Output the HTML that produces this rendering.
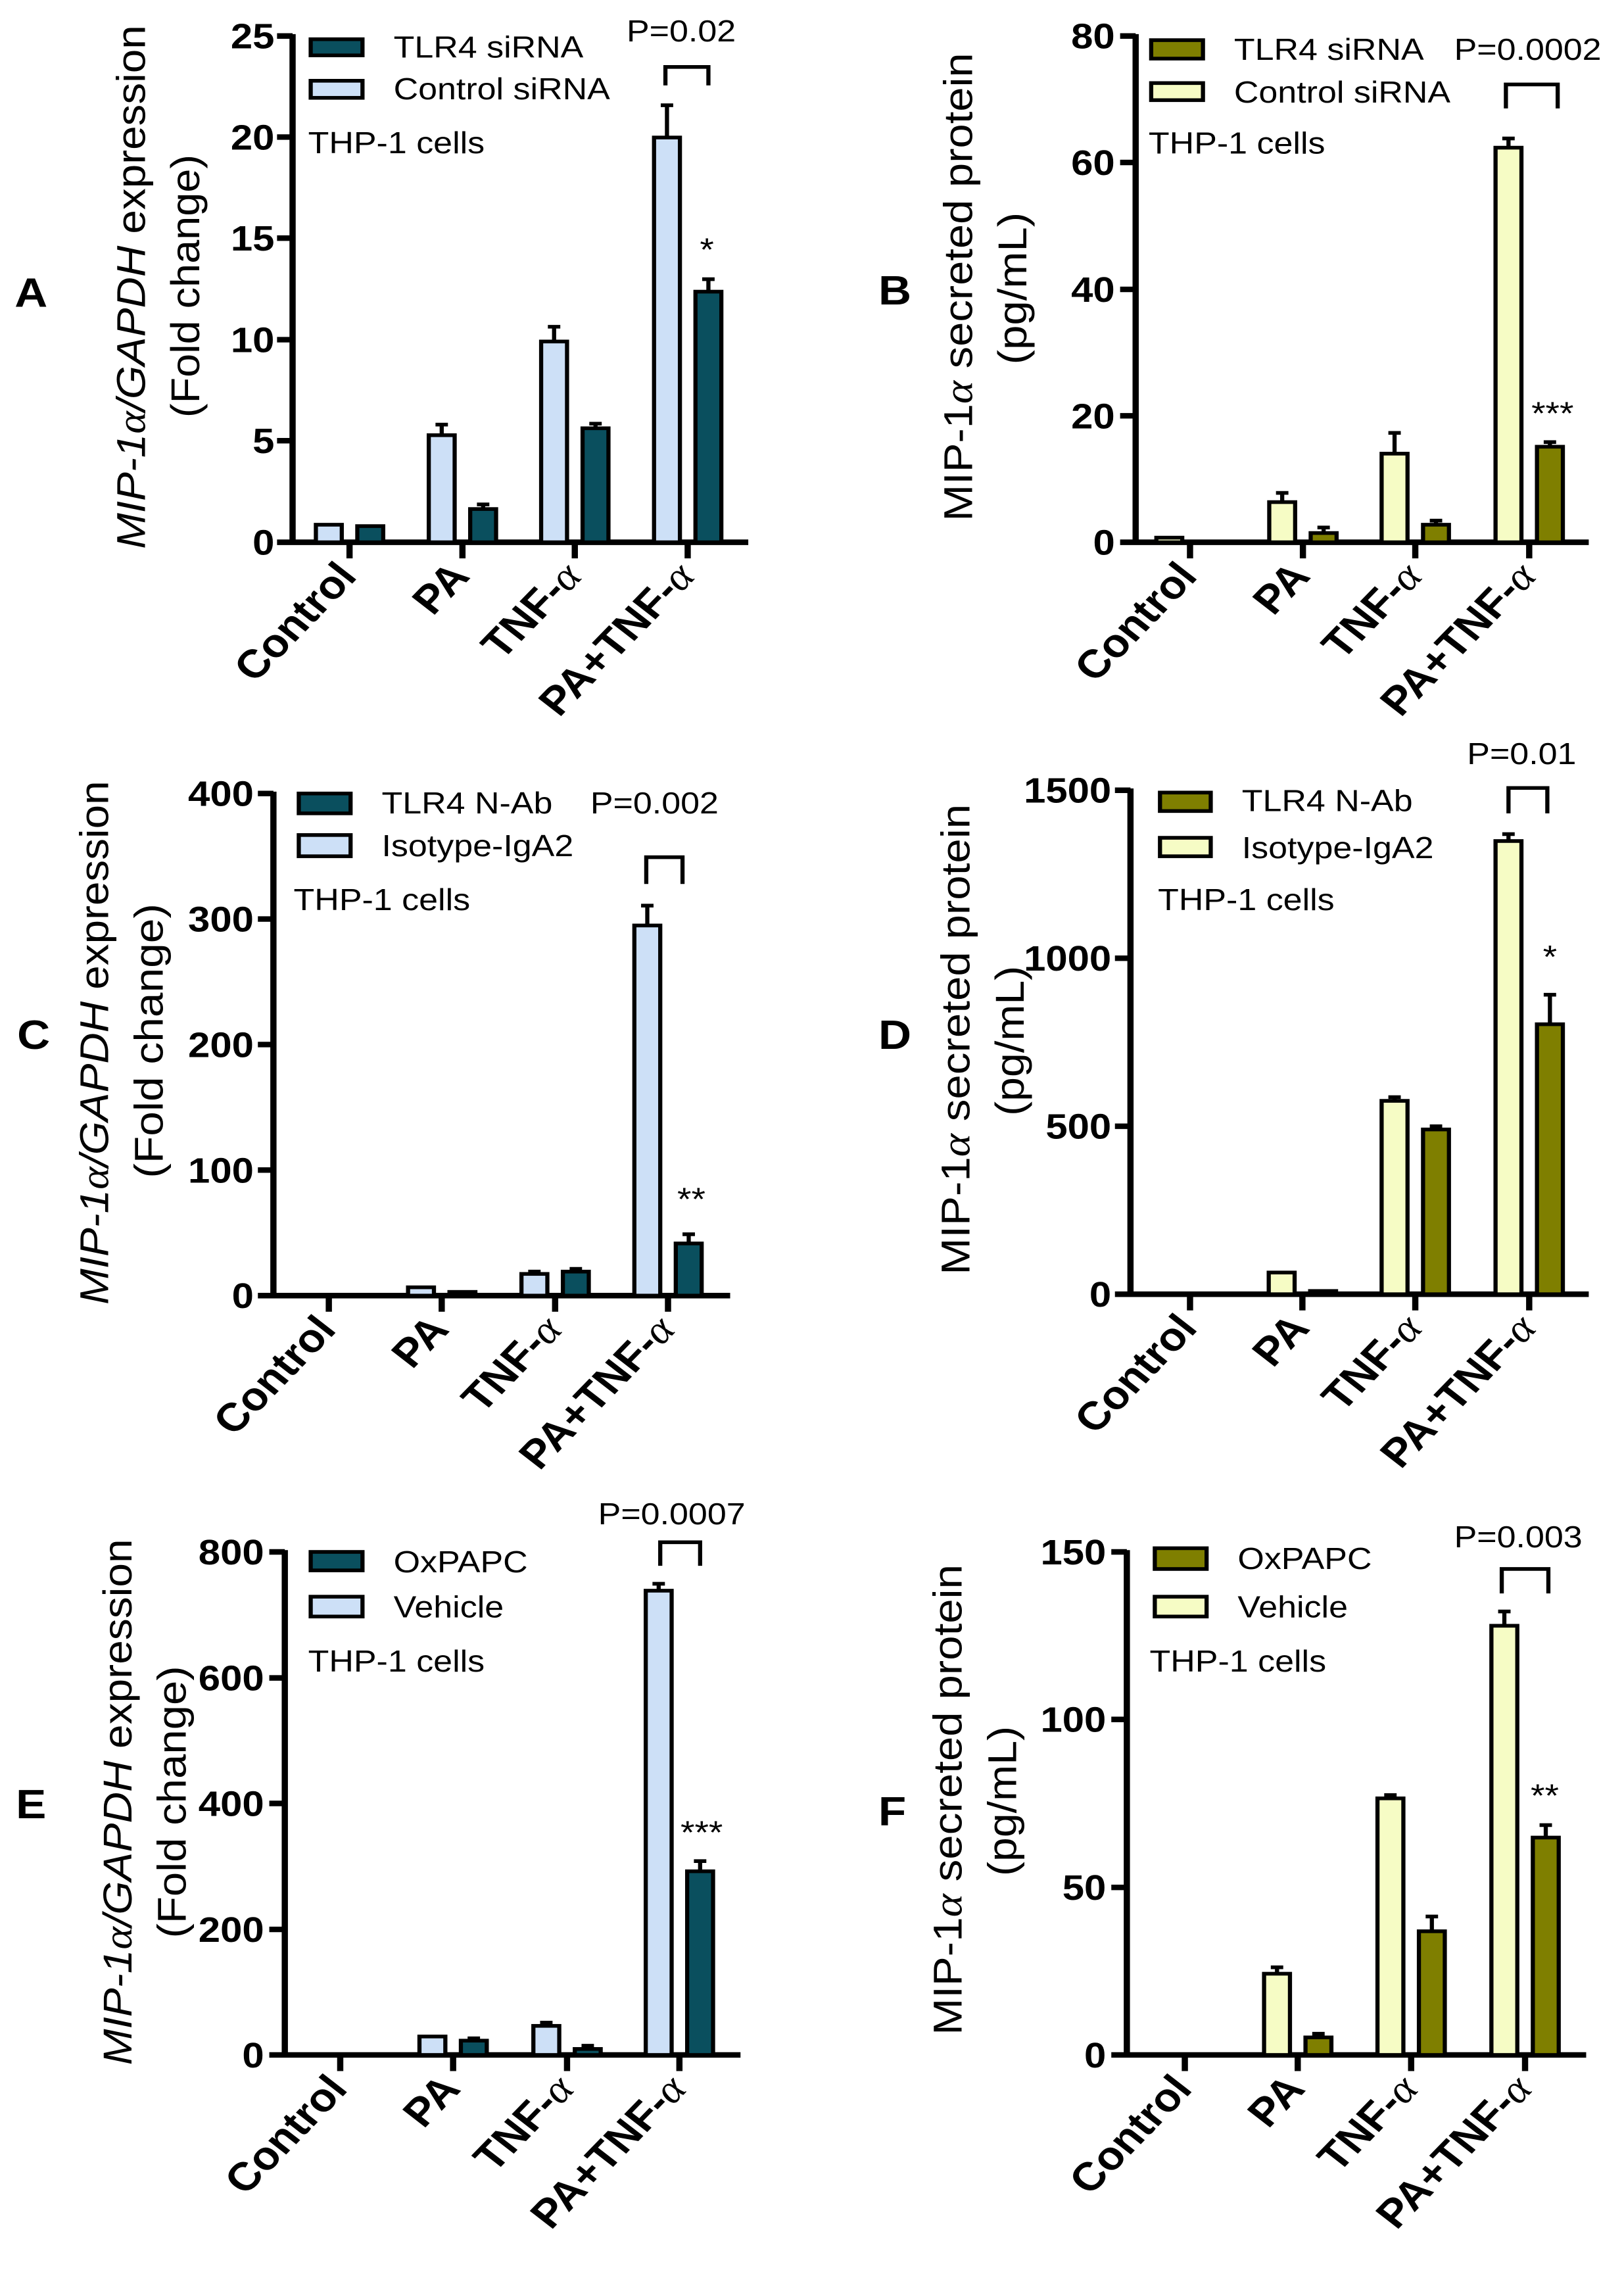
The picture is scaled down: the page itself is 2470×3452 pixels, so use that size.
<!DOCTYPE html>
<html><head><meta charset="utf-8"><style>
html,body{margin:0;padding:0;background:#fff}
svg{display:block}
text{font-family:"Liberation Sans",Arial,sans-serif;fill:#000}
.tk{font-size:76px;font-weight:bold;text-anchor:end}
.lg{font-size:66px}
.yl{font-size:78px;text-anchor:middle}
.xl{font-size:86px;font-weight:bold;text-anchor:end}
.lt{font-size:88px;font-weight:bold;text-anchor:middle}
.st{font-size:70px;text-anchor:middle}
.ax{stroke:#000;stroke-width:12;fill:none}
.b{stroke:#000;stroke-width:8}
.e{stroke:#000;stroke-width:8;fill:none}
.t{fill:#0a4f5e}.l{fill:#cde0f7}.o{fill:#7f7f00}.y{fill:#f6fcc5}
.al{font-family:"Liberation Serif",serif;font-style:italic;font-weight:normal}
</style></head><body>
<svg width="2470" height="3452" viewBox="0 0 2470 3452" xmlns="http://www.w3.org/2000/svg">

<!-- Panel A -->
<g transform="translate(0,0) scale(0.7876,0.7018)">
<text class="lt" x="60" y="665">A</text>
<text class="yl" transform="translate(280,622) rotate(-90)" textLength="1135" lengthAdjust="spacingAndGlyphs"><tspan font-style="italic">MIP-1</tspan><tspan class="al">α</tspan><tspan font-style="italic">/GAPDH</tspan> expression</text>
<text class="yl" transform="translate(385,620) rotate(-90)" textLength="570" lengthAdjust="spacingAndGlyphs">(Fold change)</text>
<path class="ax" d="M565,74V1175H1445M535,1175H565M535,955H565M535,736H565M535,516H565M535,297H565M535,78H565M675,1175V1210M893,1175V1210M1110,1175V1210M1328,1175V1210"/>
<text class="tk" x="530" y="1202">0</text><text class="tk" x="530" y="982">5</text><text class="tk" x="530" y="763">10</text><text class="tk" x="530" y="543">15</text><text class="tk" x="530" y="324">20</text><text class="tk" x="530" y="105">25</text>
<rect class="b t" x="600" y="85" width="100" height="35"/><rect class="b l" x="600" y="175" width="100" height="37"/>
<text class="lg" x="760" y="125">TLR4 siRNA</text><text class="lg" x="760" y="215">Control siRNA</text>
<text class="lg" x="595" y="332">THP-1 cells</text>
<text class="lg" x="1210" y="90">P=0.02</text>
<path class="e" d="M1285,185V145H1368V185"/>
<text class="st" x="1365" y="565">*</text>
<path class="e" d="M853,943V920M841,920H865M933,1103V1093M921,1093H945M1070,740V708M1058,708H1082M1150,928V918M1138,918H1162M1288,298V228M1276,228H1300M1368,632V605M1356,605H1380"/>
<rect class="b l" x="610" y="1137" width="50" height="38"/><rect class="b t" x="690" y="1140" width="50" height="35"/>
<rect class="b l" x="828" y="943" width="50" height="232"/><rect class="b t" x="908" y="1103" width="50" height="72"/>
<rect class="b l" x="1045" y="740" width="50" height="435"/><rect class="b t" x="1125" y="928" width="50" height="247"/>
<rect class="b l" x="1263" y="298" width="50" height="877"/><rect class="b t" x="1343" y="632" width="50" height="543"/>
<text class="xl" transform="translate(692,1251) rotate(-49)">Control</text>
<text class="xl" transform="translate(910,1251) rotate(-49)">PA</text>
<text class="xl" transform="translate(1127,1251) rotate(-49)">TNF-<tspan class="al">α</tspan></text>
<text class="xl" transform="translate(1345,1251) rotate(-49)">PA+TNF-<tspan class="al">α</tspan></text>
</g>

<!-- Panel B -->
<g transform="translate(1235,0) scale(0.7876,0.7018)">
<text class="lt" x="160" y="660">B</text>
<text class="yl" transform="translate(309,622) rotate(-90)" textLength="1015" lengthAdjust="spacingAndGlyphs">MIP-1<tspan class="al">α</tspan> secreted protein</text>
<text class="yl" transform="translate(414,625) rotate(-90)" textLength="330" lengthAdjust="spacingAndGlyphs">(pg/mL)</text>
<path class="ax" d="M625,74V1175H1500M595,1175H625M595,901H625M595,627H625M595,352H625M595,78H625M730,1175V1210M948,1175V1210M1165,1175V1210M1385,1175V1210"/>
<text class="tk" x="585" y="1202">0</text><text class="tk" x="585" y="928">20</text><text class="tk" x="585" y="654">40</text><text class="tk" x="585" y="379">60</text><text class="tk" x="585" y="105">80</text>
<rect class="b o" x="655" y="87" width="100" height="40"/><rect class="b y" x="655" y="180" width="100" height="37"/>
<text class="lg" x="815" y="130">TLR4 siRNA</text><text class="lg" x="815" y="222">Control siRNA</text>
<text class="lg" x="650" y="333">THP-1 cells</text>
<text class="lg" x="1240" y="130">P=0.0002</text>
<path class="e" d="M1340,235V183H1440V235"/>
<text class="st" x="1430" y="920">***</text>
<path class="e" d="M908,1088V1068M896,1068H920M988,1155V1143M976,1143H1000M1125,983V938M1113,938H1137M1205,1137V1128M1193,1128H1217M1345,320V300M1333,300H1357M1425,968V958M1413,958H1437"/>
<rect class="b y" x="665" y="1165" width="50" height="10"/>
<rect class="b y" x="883" y="1088" width="50" height="87"/><rect class="b o" x="963" y="1155" width="50" height="20"/>
<rect class="b y" x="1100" y="983" width="50" height="192"/><rect class="b o" x="1180" y="1137" width="50" height="38"/>
<rect class="b y" x="1320" y="320" width="50" height="855"/><rect class="b o" x="1400" y="968" width="50" height="207"/>
<text class="xl" transform="translate(747,1251) rotate(-49)">Control</text>
<text class="xl" transform="translate(965,1251) rotate(-49)">PA</text>
<text class="xl" transform="translate(1182,1251) rotate(-49)">TNF-<tspan class="al">α</tspan></text>
<text class="xl" transform="translate(1402,1251) rotate(-49)">PA+TNF-<tspan class="al">α</tspan></text>
</g>

<!-- Panel C -->
<g transform="translate(0,1100) scale(0.7876,0.7018)">
<text class="lt" x="65" y="705">C</text>
<text class="yl" transform="translate(209,692) rotate(-90)" textLength="1135" lengthAdjust="spacingAndGlyphs"><tspan font-style="italic">MIP-1</tspan><tspan class="al">α</tspan><tspan font-style="italic">/GAPDH</tspan> expression</text>
<text class="yl" transform="translate(314,688) rotate(-90)" textLength="595" lengthAdjust="spacingAndGlyphs">(Fold change)</text>
<path class="ax" d="M528,148V1240H1410M498,1240H528M498,968H528M498,696H528M498,424H528M498,152H528M635,1240V1275M853,1240V1275M1072,1240V1275M1290,1240V1275"/>
<text class="tk" x="490" y="1267">0</text><text class="tk" x="490" y="995">100</text><text class="tk" x="490" y="723">200</text><text class="tk" x="490" y="451">300</text><text class="tk" x="490" y="179">400</text>
<rect class="b t" x="577" y="152" width="100" height="43"/><rect class="b l" x="577" y="242" width="100" height="46"/>
<text class="lg" x="737" y="195">TLR4 N-Ab</text><text class="lg" x="737" y="288">Isotype-IgA2</text>
<text class="lg" x="567" y="405">THP-1 cells</text>
<text class="lg" x="1140" y="195">P=0.002</text>
<path class="e" d="M1248,348V290H1318V348"/>
<text class="st" x="1335" y="1055">**</text>
<path class="e" d="M1032,1193V1188M1020,1188H1044M1112,1188V1182M1100,1182H1124M1250,438V395M1238,395H1262M1330,1127V1107M1318,1107H1342"/>
<rect class="b l" x="788" y="1222" width="50" height="18"/><rect class="b t" x="868" y="1232" width="50" height="8"/>
<rect class="b l" x="1007" y="1193" width="50" height="47"/><rect class="b t" x="1087" y="1188" width="50" height="52"/>
<rect class="b l" x="1225" y="438" width="50" height="802"/><rect class="b t" x="1305" y="1127" width="50" height="113"/>
<text class="xl" transform="translate(652,1316) rotate(-49)">Control</text>
<text class="xl" transform="translate(870,1316) rotate(-49)">PA</text>
<text class="xl" transform="translate(1089,1316) rotate(-49)">TNF-<tspan class="al">α</tspan></text>
<text class="xl" transform="translate(1307,1316) rotate(-49)">PA+TNF-<tspan class="al">α</tspan></text>
</g>

<!-- Panel D -->
<g transform="translate(1235,1100) scale(0.7876,0.7018)">
<text class="lt" x="160" y="705">D</text>
<text class="yl" transform="translate(304,685) rotate(-90)" textLength="1020" lengthAdjust="spacingAndGlyphs">MIP-1<tspan class="al">α</tspan> secreted protein</text>
<text class="yl" transform="translate(409,688) rotate(-90)" textLength="325" lengthAdjust="spacingAndGlyphs">(pg/mL)</text>
<path class="ax" d="M615,141V1237H1500M585,1237H615M585,873H615M585,509H615M585,145H615M730,1237V1272M947,1237V1272M1165,1237V1272M1385,1237V1272"/>
<text class="tk" x="578" y="1264">0</text><text class="tk" x="578" y="900">500</text><text class="tk" x="578" y="536">1000</text><text class="tk" x="578" y="172">1500</text>
<rect class="b o" x="672" y="150" width="98" height="40"/><rect class="b y" x="672" y="248" width="98" height="40"/>
<text class="lg" x="830" y="190">TLR4 N-Ab</text><text class="lg" x="830" y="292">Isotype-IgA2</text>
<text class="lg" x="668" y="405">THP-1 cells</text>
<text class="lg" x="1265" y="88">P=0.01</text>
<path class="e" d="M1345,195V140H1420V195"/>
<text class="st" x="1425" y="530">*</text>
<path class="e" d="M1125,818V810M1113,810H1137M1205,880V873M1193,873H1217M1345,255V240M1333,240H1357M1425,652V588M1413,588H1437"/>
<rect class="b y" x="882" y="1190" width="50" height="47"/><rect class="b o" x="962" y="1230" width="50" height="7"/>
<rect class="b y" x="1100" y="818" width="50" height="419"/><rect class="b o" x="1180" y="880" width="50" height="357"/>
<rect class="b y" x="1320" y="255" width="50" height="982"/><rect class="b o" x="1400" y="652" width="50" height="585"/>
<text class="xl" transform="translate(747,1313) rotate(-49)">Control</text>
<text class="xl" transform="translate(964,1313) rotate(-49)">PA</text>
<text class="xl" transform="translate(1182,1313) rotate(-49)">TNF-<tspan class="al">α</tspan></text>
<text class="xl" transform="translate(1402,1313) rotate(-49)">PA+TNF-<tspan class="al">α</tspan></text>
</g>

<!-- Panel E -->
<g transform="translate(0,2200) scale(0.7876,0.7018)">
<text class="lt" x="60" y="805">E</text>
<text class="yl" transform="translate(254,770) rotate(-90)" textLength="1140" lengthAdjust="spacingAndGlyphs"><tspan font-style="italic">MIP-1</tspan><tspan class="al">α</tspan><tspan font-style="italic">/GAPDH</tspan> expression</text>
<text class="yl" transform="translate(359,770) rotate(-90)" textLength="590" lengthAdjust="spacingAndGlyphs">(Fold change)</text>
<path class="ax" d="M550,224V1318H1430M520,1318H550M520,1046H550M520,773H550M520,501H550M520,228H550M657,1318V1353M875,1318V1353M1095,1318V1353M1312,1318V1353"/>
<text class="tk" x="510" y="1345">0</text><text class="tk" x="510" y="1073">200</text><text class="tk" x="510" y="800">400</text><text class="tk" x="510" y="528">600</text><text class="tk" x="510" y="255">800</text>
<rect class="b t" x="600" y="228" width="100" height="40"/><rect class="b l" x="600" y="325" width="100" height="43"/>
<text class="lg" x="760" y="272">OxPAPC</text><text class="lg" x="760" y="370">Vehicle</text>
<text class="lg" x="595" y="487">THP-1 cells</text>
<text class="lg" x="1155" y="168">P=0.0007</text>
<path class="e" d="M1275,258V207H1352V258"/>
<text class="st" x="1355" y="860">***</text>
<path class="e" d="M915,1287V1282M903,1282H927M1055,1255V1248M1043,1248H1067M1135,1305V1298M1123,1298H1147M1272,312V297M1260,297H1284M1352,920V898M1340,898H1364"/>
<rect class="b l" x="810" y="1278" width="50" height="40"/><rect class="b t" x="890" y="1287" width="50" height="31"/>
<rect class="b l" x="1030" y="1255" width="50" height="63"/><rect class="b t" x="1110" y="1305" width="50" height="13"/>
<rect class="b l" x="1247" y="312" width="50" height="1006"/><rect class="b t" x="1327" y="920" width="50" height="398"/>
<text class="xl" transform="translate(674,1394) rotate(-49)">Control</text>
<text class="xl" transform="translate(892,1394) rotate(-49)">PA</text>
<text class="xl" transform="translate(1112,1394) rotate(-49)">TNF-<tspan class="al">α</tspan></text>
<text class="xl" transform="translate(1329,1394) rotate(-49)">PA+TNF-<tspan class="al">α</tspan></text>
</g>

<!-- Panel F -->
<g transform="translate(1235,2200) scale(0.7876,0.7018)">
<text class="lt" x="155" y="820">F</text>
<text class="yl" transform="translate(289,765) rotate(-90)" textLength="1020" lengthAdjust="spacingAndGlyphs">MIP-1<tspan class="al">α</tspan> secreted protein</text>
<text class="yl" transform="translate(394,768) rotate(-90)" textLength="325" lengthAdjust="spacingAndGlyphs">(pg/mL)</text>
<path class="ax" d="M608,224V1318H1495M578,1318H608M578,955H608M578,591H608M578,228H608M720,1318V1353M938,1318V1353M1157,1318V1353M1377,1318V1353"/>
<text class="tk" x="568" y="1345">0</text><text class="tk" x="568" y="982">50</text><text class="tk" x="568" y="618">100</text><text class="tk" x="568" y="255">150</text>
<rect class="b o" x="662" y="220" width="100" height="45"/><rect class="b y" x="662" y="325" width="100" height="43"/>
<text class="lg" x="822" y="265">OxPAPC</text><text class="lg" x="822" y="370">Vehicle</text>
<text class="lg" x="652" y="487">THP-1 cells</text>
<text class="lg" x="1240" y="218">P=0.003</text>
<path class="e" d="M1332,318V265H1422V318"/>
<text class="st" x="1415" y="780">**</text>
<path class="e" d="M898,1142V1128M886,1128H910M978,1280V1272M966,1272H990M1117,762V755M1105,755H1129M1197,1050V1018M1185,1018H1209M1337,388V357M1325,357H1349M1417,847V820M1405,820H1429"/>
<rect class="b y" x="873" y="1142" width="50" height="176"/><rect class="b o" x="953" y="1280" width="50" height="38"/>
<rect class="b y" x="1092" y="762" width="50" height="556"/><rect class="b o" x="1172" y="1050" width="50" height="268"/>
<rect class="b y" x="1312" y="388" width="50" height="930"/><rect class="b o" x="1392" y="847" width="50" height="471"/>
<text class="xl" transform="translate(737,1394) rotate(-49)">Control</text>
<text class="xl" transform="translate(955,1394) rotate(-49)">PA</text>
<text class="xl" transform="translate(1174,1394) rotate(-49)">TNF-<tspan class="al">α</tspan></text>
<text class="xl" transform="translate(1394,1394) rotate(-49)">PA+TNF-<tspan class="al">α</tspan></text>
</g>
</svg>
</body></html>
